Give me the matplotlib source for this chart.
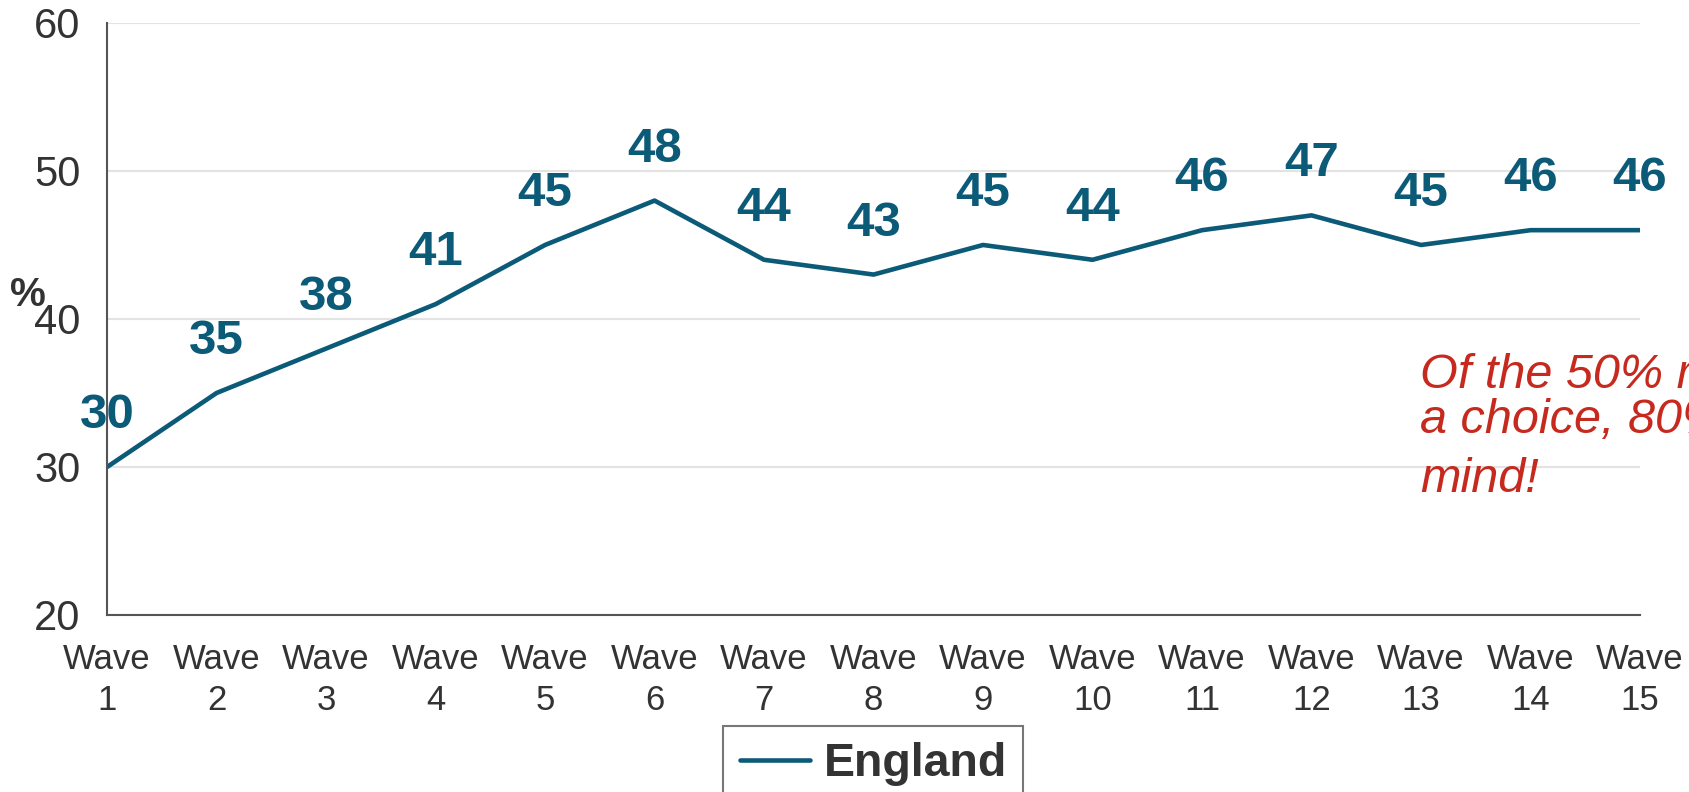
import matplotlib
matplotlib.use("Agg")
import matplotlib.pyplot as plt

plt.rcParams['font.family'] = ['Liberation Sans', 'DejaVu Sans']

waves = ["Wave\n%d" % i for i in range(1, 16)]
england = [30, 35, 38, 41, 45, 48, 44, 43, 45, 44, 46, 47, 45, 46, 46]
yticks = [20, 30, 40, 50, 60]

line_col = "#0B5A78"
text_col = "#333333"
red = "#C62A1E"

fig = plt.figure(figsize=(16.89, 7.92), dpi=100)
ax = fig.add_axes([0.0634, 0.2235, 0.9076, 0.7475])

x = list(range(1, len(england) + 1))
ax.plot(x, england, color=line_col, lw=3.3, label="England", solid_capstyle="round")

for xi, v in zip(x, england):
    ax.annotate(str(v), (xi, v), xytext=(0, 37), textcoords="offset points",
                ha="center", va="center", fontsize=35.5, fontweight="bold",
                color=line_col)

ax.set_xlim(1, 15)
ax.set_ylim(20, 60)
ax.set_yticks(yticks)
ax.set_xticks(x)
ax.set_xticklabels(waves, linespacing=1.3)
ax.tick_params(axis="x", length=0, pad=20, labelsize=25, labelcolor=text_col)
ax.tick_params(axis="y", length=0, pad=19, labelsize=30, labelcolor=text_col)

ax.grid(axis="y", color="#E3E3E3", lw=1.5)
ax.set_axisbelow(True)
for s in ["top", "right"]:
    ax.spines[s].set_visible(False)
for s in ["left", "bottom"]:
    ax.spines[s].set_color("#555555")
    ax.spines[s].set_linewidth(1.5)

fig.text(0.006, 0.628, "%", fontsize=29, fontweight="bold", color=text_col,
         ha="left", va="center")

# annotation on the right, runs off the edge like the original slide
fig.text(0.8407, 0.5101, "Of the 50% reporting", fontsize=35, style="italic",
         color=red, va="baseline")
fig.text(0.8407, 0.4533, "a choice, 80% had made up their", fontsize=35,
         style="italic", color=red, va="baseline")
fig.text(0.8407, 0.3788, "mind!", fontsize=35, style="italic", color=red,
         va="baseline")

leg = fig.legend(loc="upper center", bbox_to_anchor=(0.517, 0.113),
                 prop={"size": 33.5, "weight": "bold"}, handlelength=1.5,
                 handletextpad=0.3, borderpad=0.35, fancybox=False,
                 frameon=True, edgecolor="#555555")
leg.get_frame().set_linewidth(1.5)
for t in leg.get_texts():
    t.set_color(text_col)

fig.savefig("out.png", dpi=100)
